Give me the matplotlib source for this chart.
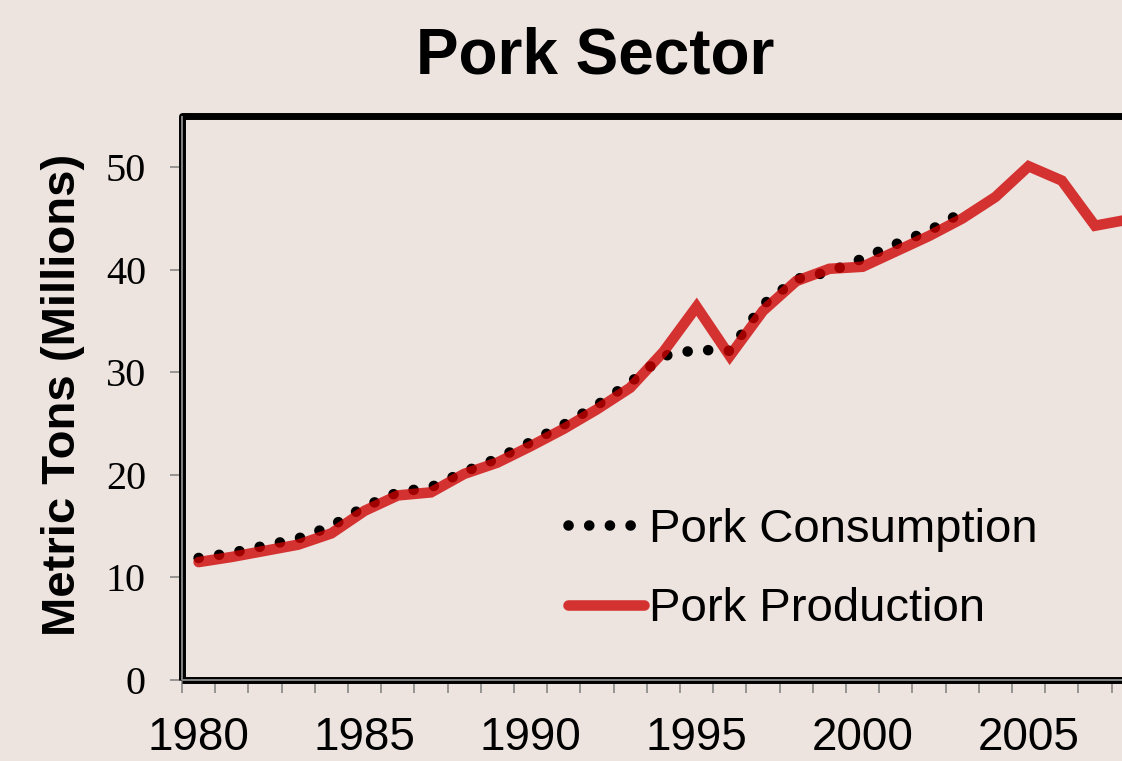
import matplotlib
matplotlib.use("Agg")
import matplotlib.pyplot as plt
from matplotlib.patches import Rectangle
from matplotlib.ticker import FixedLocator, FixedFormatter

# ---------------- data ----------------
prod_years = list(range(1980, 2009))
production = [11.5, 12.0, 12.6, 13.2, 14.3, 16.5, 18.0, 18.3, 20.1, 21.2,
              22.8, 24.5, 26.4, 28.5, 32.0, 36.4, 31.6, 36.0, 38.9, 40.1,
              40.3, 41.8, 43.3, 45.0, 47.1, 50.1, 48.7, 44.3, 44.9]
cons_years = list(range(1980, 2004))
consumption = [11.9, 12.4, 13.1, 13.8, 15.0, 16.9, 18.3, 18.8, 20.3, 21.6,
               23.2, 24.9, 26.8, 29.0, 31.6, 32.2, 32.1, 36.6, 39.1, 39.8,
               41.1, 42.5, 43.8, 45.6]
x_tick_years = [1980, 1985, 1990, 1995, 2000, 2005]
y_ticks = [0, 10, 20, 30, 40, 50]
title = "Pork Sector"
ylabel = "Metric Tons (Millions)"
labels = ["Pork Consumption", "Pork Production"]

# ---------------- styling ----------------
W, H = 1122, 761
BG = "#EDE4E0"
GRAY = "#8E8E8E"
SANS = "Liberation Sans"
SERIF = "Liberation Serif"

fig = plt.figure(figsize=(W / 100, H / 100), dpi=100, facecolor=BG)
ax = fig.add_axes([182 / W, (H - 680) / H, 1029.2 / W, (680 - 116) / H])
ax.set_facecolor("none")

ax.plot(cons_years, consumption, color="black", lw=7.6,
        linestyle=(0, (0.01, 1.95)), dash_capstyle="round",
        label=labels[0], zorder=2)
ax.plot(prod_years, production, color="#CE0000", alpha=0.78, lw=7.6,
        solid_capstyle="round", solid_joinstyle="miter",
        label=labels[1], zorder=3)

ax.set_xlim(1979.5, 2010.5)
ax.set_ylim(0, 55)

# frame
for s in ax.spines.values():
    s.set_visible(False)
frame = Rectangle((0, 0), 1, 1, transform=ax.transAxes, fill=False,
                  lw=5.0, ec="black", joinstyle="round", zorder=4,
                  clip_on=False)
ax.add_patch(frame)
ax.plot([0, 0], [0, 1], transform=ax.transAxes, color=GRAY, lw=1.3,
        clip_on=False, zorder=5, solid_capstyle="butt")
ax.plot([0, 1], [0, 0], transform=ax.transAxes, color=GRAY, lw=1.3,
        clip_on=False, zorder=5, solid_capstyle="butt")

# x ticks: labels at category centres, marks at category boundaries
ax.xaxis.set_major_locator(FixedLocator(x_tick_years))
ax.xaxis.set_major_formatter(FixedFormatter([str(y) for y in x_tick_years]))
ax.xaxis.set_minor_locator(FixedLocator([y - 0.5 for y in range(1980, 2011)]))
ax.tick_params(axis="x", which="major", length=0, pad=26,
               labelsize=33, labelcolor="black")
ax.tick_params(axis="x", which="minor", length=9, width=1.3, color=GRAY,
               direction="out")
for lab in ax.get_xticklabels():
    lab.set_fontfamily(SANS)

ax.set_yticks(y_ticks)
ax.tick_params(axis="y", which="major", length=9, width=1.3, color=GRAY,
               direction="out", pad=17, labelsize=29)
for lab in ax.get_yticklabels():
    lab.set_fontfamily(SERIF)

ax.set_ylabel(ylabel, fontsize=34, fontweight="bold", family=SANS,
              labelpad=0)
ax.yaxis.set_label_coords(63 / W, 1 - 395 / H, transform=fig.transFigure)
ax.yaxis.label.set_verticalalignment("center")

fig.text(595 / W, 1 - 57 / H, title, ha="center", va="center",
         fontsize=46, fontweight="bold", family=SANS)

leg = ax.legend(loc="upper left", bbox_to_anchor=(568 / W, 1 - 508 / H),
                bbox_transform=fig.transFigure, frameon=False,
                prop={"family": SANS, "size": 34}, borderpad=0,
                borderaxespad=0, handlelength=1.6, handletextpad=0.12,
                labelspacing=0.75)

fig.savefig("out.png", dpi=100, facecolor=BG)
